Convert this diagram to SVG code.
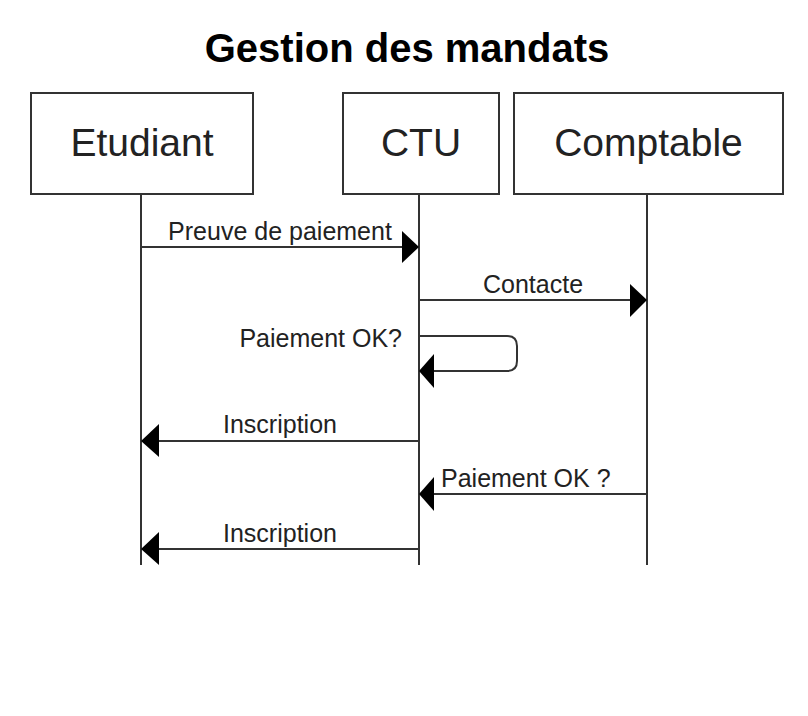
<svg xmlns="http://www.w3.org/2000/svg" width="808" height="716" viewBox="0 0 808 716">
<style>
.box{fill:#fff;stroke:#333;stroke-width:2}
.life{stroke:#333;stroke-width:2;fill:none}
.msg{stroke:#333;stroke-width:2;fill:none}
.head{fill:#000}
.lbl{font-family:"Liberation Sans",Arial,sans-serif;font-size:39px;fill:#222;text-anchor:middle}
.ml{font-family:"Liberation Sans",Arial,sans-serif;font-size:25px;fill:#222}
.title{font-family:"Liberation Sans",Arial,sans-serif;font-size:40px;font-weight:bold;fill:#000;text-anchor:middle}
</style>
<rect width="808" height="716" fill="#fff"/>
<text class="title" x="407" y="61.5">Gestion des mandats</text>
<g id="lifelines">
<line class="life" x1="141" y1="194" x2="141" y2="565"/>
<line class="life" x1="419" y1="194" x2="419" y2="565"/>
<line class="life" x1="647" y1="194" x2="647" y2="565"/>
</g>
<g id="etudiant">
<rect class="box" x="31" y="93" width="222" height="101"/>
<text class="lbl" x="142" y="156">Etudiant</text>
</g>
<g id="ctu">
<rect class="box" x="343" y="93" width="156" height="101"/>
<text class="lbl" x="421" y="156">CTU</text>
</g>
<g id="comptable">
<rect class="box" x="514" y="93" width="269" height="101"/>
<text class="lbl" x="648.5" y="156">Comptable</text>
</g>
<g id="connectors">
<line class="msg" x1="141" y1="247" x2="404" y2="247"/>
<polygon class="head" points="419,247 402,231 402,263"/>
<text class="ml" x="280" y="240" text-anchor="middle">Preuve de paiement</text>

<line class="msg" x1="419" y1="300" x2="632" y2="300"/>
<polygon class="head" points="647,300 630,284 630,317"/>
<text class="ml" x="533" y="293" text-anchor="middle">Contacte</text>

<path class="msg" d="M419,336 H507 Q517,336 517,346 V361 Q517,371 507,371 H432"/>
<polygon class="head" points="419,371 434,354 434,388"/>
<text class="ml" x="402" y="347" text-anchor="end">Paiement OK?</text>

<line class="msg" x1="419" y1="441" x2="156" y2="441"/>
<polygon class="head" points="141,441 159,424 159,457"/>
<text class="ml" x="280" y="433" text-anchor="middle">Inscription</text>

<line class="msg" x1="647" y1="494" x2="432" y2="494"/>
<polygon class="head" points="419,494 434,477 434,511"/>
<text class="ml" x="441" y="487">Paiement OK ?</text>

<line class="msg" x1="419" y1="549" x2="156" y2="549"/>
<polygon class="head" points="141,549 159,532 159,565"/>
<text class="ml" x="280" y="542" text-anchor="middle">Inscription</text>
</g>
</svg>
